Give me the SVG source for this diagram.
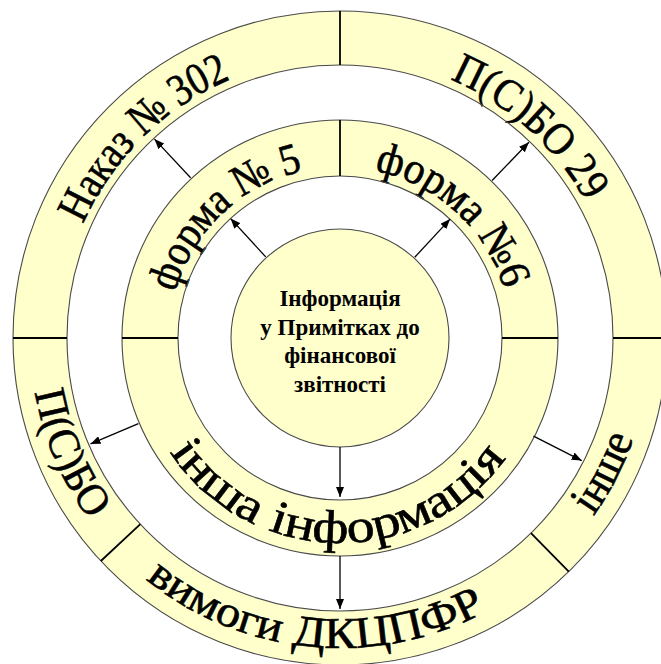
<svg xmlns="http://www.w3.org/2000/svg" width="661" height="664" viewBox="0 0 661 664">
<style>
.seg{fill:#FFFFCC;stroke:none}
.edge{fill:none;stroke:#4a4a4a;stroke-width:1.1}
.div{stroke:#000;stroke-width:1.8}
.lbl{font-family:"Liberation Serif","Times New Roman",serif;fill:#000;stroke:#000;stroke-width:0.6}
.ctr{font-family:"Liberation Serif","Times New Roman",serif;font-weight:bold;font-size:23px;fill:#000;text-anchor:middle}
.arr{stroke:#000;stroke-width:1.3;fill:none;marker-end:url(#ah)}
</style>
<defs>
<marker id="ah" viewBox="0 0 10 8" refX="10" refY="4" markerWidth="10" markerHeight="8" markerUnits="userSpaceOnUse" orient="auto">
<path d="M0,0 L10,4 L0,8 Z" fill="#000"/>
</marker>
<path id="cw281" d="M63.27,289.2 A281,281 0 0 1 616.73,289.2"/>
<path id="cw171" d="M171.60,308.31 A171,171 0 0 1 508.40,308.31"/>
<path id="ccw205" d="M138.11,373.6 A205,205 0 0 0 541.89,373.6"/>
<path id="ccw310" d="M34.71,391.83 A310,310 0 0 0 645.29,391.83"/>
</defs>
<rect width="661" height="664" fill="#fff"/>

<g id="nakaz302">
<path class="seg" d="M13,338 A327,327 0 0 1 340,11 L340,65 A273,273 0 0 0 67,338 Z"/>
<text class="lbl" font-size="45" transform="rotate(-44.5 340 338)"><textPath href="#cw281" startOffset="50%" text-anchor="middle" textLength="212" lengthAdjust="spacingAndGlyphs">Наказ № 302</textPath></text>
</g>
<g id="psbo29">
<path class="seg" d="M340,11 A327,327 0 0 1 667,338 L613,338 A273,273 0 0 0 340,65 Z"/>
<text class="lbl" font-size="45" transform="rotate(42 340 338)"><textPath href="#cw281" startOffset="50%" text-anchor="middle" textLength="186" lengthAdjust="spacingAndGlyphs">П(С)БО 29</textPath></text>
</g>
<g id="inshe">
<path class="seg" d="M667,338 A327,327 0 0 1 568.79,571.63 L531.01,533.05 A273,273 0 0 0 613,338 Z"/>
<text class="lbl" font-size="46" transform="rotate(-63 340 338)"><textPath href="#ccw310" startOffset="50%" text-anchor="middle" textLength="88" lengthAdjust="spacingAndGlyphs">інше</textPath></text>
</g>
<g id="vymogy">
<path class="seg" d="M568.79,571.63 A327,327 0 0 1 100.85,561.01 L140.34,524.19 A273,273 0 0 0 531.01,533.05 Z"/>
<text class="lbl" font-size="44" transform="rotate(5.4 340 338)"><textPath href="#ccw310" startOffset="50%" text-anchor="middle" textLength="362" lengthAdjust="spacingAndGlyphs">вимоги ДКЦПФР</textPath></text>
</g>
<g id="psbo">
<path class="seg" d="M100.85,561.01 A327,327 0 0 1 13,338 L67,338 A273,273 0 0 0 140.34,524.19 Z"/>
<text class="lbl" font-size="44" transform="rotate(67 340 338)"><textPath href="#ccw310" startOffset="50%" text-anchor="middle" textLength="140" lengthAdjust="spacingAndGlyphs">П(С)БО</textPath></text>
</g>

<g id="forma5">
<path class="seg" d="M122,338 A218,218 0 0 1 340,120 L340,176 A162,162 0 0 0 178,338 Z"/>
<text class="lbl" font-size="44" transform="rotate(-43.5 340 338)"><textPath href="#cw171" startOffset="50%" text-anchor="middle" textLength="185" lengthAdjust="spacingAndGlyphs">форма № 5</textPath></text>
</g>
<g id="forma6">
<path class="seg" d="M340,120 A218,218 0 0 1 558,338 L502,338 A162,162 0 0 0 340,176 Z"/>
<text class="lbl" font-size="44" transform="rotate(42.5 340 338)"><textPath href="#cw171" startOffset="50%" text-anchor="middle" textLength="185" lengthAdjust="spacingAndGlyphs">форма №6</textPath></text>
</g>
<g id="insha">
<path class="seg" d="M558,338 A218,218 0 0 1 122,338 L178,338 A162,162 0 0 0 502,338 Z"/>
<text class="lbl" font-size="47" transform="rotate(1 340 338)"><textPath href="#ccw205" startOffset="50%" text-anchor="middle" textLength="395" lengthAdjust="spacingAndGlyphs">інша інформація</textPath></text>
</g>

<g id="outlines">
<circle class="edge" cx="340" cy="338" r="327"/>
<circle class="edge" cx="340" cy="338" r="273"/>
<circle class="edge" cx="340" cy="338" r="218"/>
<circle class="edge" cx="340" cy="338" r="162"/>
<line class="div" x1="340" y1="11" x2="340" y2="65"/>
<line class="div" x1="13" y1="338" x2="67" y2="338"/>
<line class="div" x1="613" y1="338" x2="667" y2="338"/>
<line class="div" x1="100.85" y1="561.01" x2="140.34" y2="524.19"/>
<line class="div" x1="568.79" y1="571.63" x2="531.01" y2="533.05"/>
<line class="div" x1="340" y1="120" x2="340" y2="176"/>
<line class="div" x1="122" y1="338" x2="178" y2="338"/>
<line class="div" x1="502" y1="338" x2="558" y2="338"/>
</g>

<g id="centre">
<circle cx="340" cy="338" r="109" fill="#FFFFCC" stroke="#4a4a4a" stroke-width="1.1"/>
<text class="ctr" x="340" y="306">Інформація</text>
<text class="ctr" x="340" y="335">у Примітках до</text>
<text class="ctr" x="340" y="363">фінансової</text>
<text class="ctr" x="340" y="392">звітності</text>
</g>

<g id="connectors">
<line class="arr" x1="265.7" y1="256.9" x2="230.6" y2="218.6"/>
<line class="arr" x1="414.7" y1="257.3" x2="450.1" y2="219.1"/>
<line class="arr" x1="190.6" y1="177.8" x2="154.5" y2="139.1"/>
<line class="arr" x1="492.1" y1="180.5" x2="528.9" y2="142.3"/>
<line class="arr" x1="340" y1="447" x2="340" y2="497"/>
<line class="arr" x1="340" y1="556" x2="340" y2="609"/>
<line class="arr" x1="138.4" y1="423.6" x2="90.5" y2="443.9"/>
<line class="arr" x1="533.5" y1="436.2" x2="581.7" y2="460.6"/>
</g>
</svg>
